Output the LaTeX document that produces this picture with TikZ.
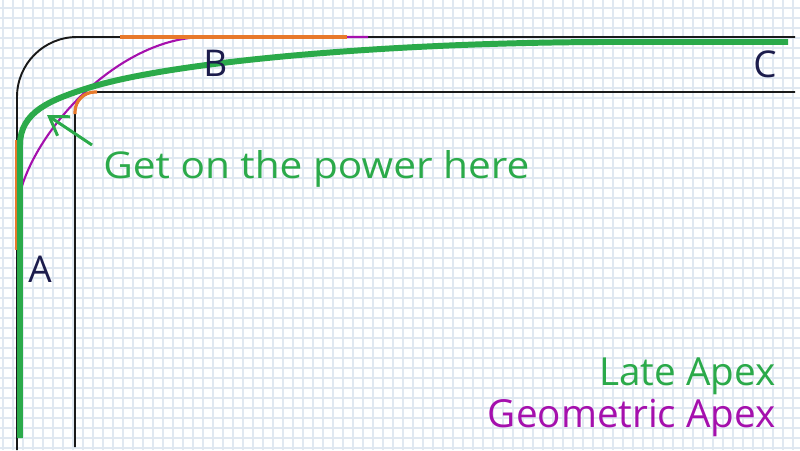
\documentclass[tikz,border=0pt]{standalone}
\usepackage{fontspec}
\setmainfont{Open Sans}
\newfontfamily\wideface[FakeStretch=1.1]{Open Sans}
\usetikzlibrary{arrows.meta}
\definecolor{trackgreen}{HTML}{2BAA4A}
\definecolor{apexpurple}{HTML}{A510AD}
\definecolor{brakeorange}{HTML}{E8792B}
\definecolor{inkblue}{HTML}{1C1C4C}
\definecolor{gridblue}{HTML}{E0E8F1}
\begin{document}
\begin{tikzpicture}[x=0.02cm,y=-0.02cm,>={Straight Barb[length=10pt,width=13pt,line width=1.7pt]},
    gridline/.style={gridblue,line width=0.6pt},
    edge/.style={line width=1.1pt,black!90},
    brake/.style={brakeorange,line width=1.8pt},
    corner/.style={inkblue,anchor=base west,inner sep=0pt,font=\fontsize{21}{25}\selectfont},
    legend/.style={anchor=base east,inner sep=0pt,font=\fontsize{22}{26}\selectfont}]
    \useasboundingbox[fill=white] (0,0) rectangle (800,450);
    % paper grid
    \foreach \x in {3,13,...,800} \draw[gridline] (\x,0) -- (\x,450);
    \foreach \y in {8,18,...,450} \draw[gridline] (0,\y) -- (800,\y);
    % track edges
    \draw[edge,rounded corners=1.2cm] (17,450) |- (795,37);
    \draw[edge,rounded corners=0.4cm] (75,447) |- (795,92);
    % geometric apex line
    \draw[apexpurple,line width=1.2pt] (17,215) .. controls (17,150) and (110,37) .. (205,37) -- (368,37);
    % braking and turn-in bits
    \draw[brake] (17,140) -- (17,250);
    \draw[brake] (120,37) -- (347,37);
    \draw[brake,rounded corners=0.4cm] (75,114) |- (97,92);
    % late apex line
    \draw[trackgreen,line width=3.4pt] (20,438) -- (20,145) .. controls (20,112) and (50,100) .. (88,88)
        .. controls (170,62) and (380,43) .. (600,42) -- (788,42);
    \coordinate (tail) at (92,145);
    \coordinate (tip) at (47,115);
    \draw[->,trackgreen,line width=1.7pt] (tail) -- (tip);
    \node[anchor=base west,inner sep=0pt,trackgreen,font=\wideface\fontsize{21}{25}\selectfont] (power) at (103,178) {Get on the power here};
    \node[corner] (A) at (28,282) {A};
    \node[corner] (B) at (203,76) {B};
    \node[corner] (C) at (753,77) {C};
    \node[legend,trackgreen] (late) at (776,385) {Late Apex};
    \node[legend,apexpurple] (geo) at (776,427) {Geometric Apex};
\end{tikzpicture}
\end{document}
